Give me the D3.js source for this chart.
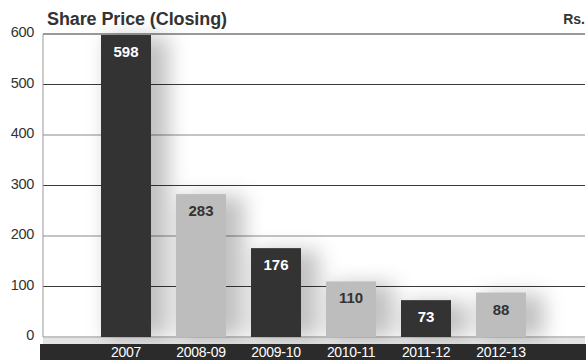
<!DOCTYPE html>
<html>
<head>
<meta charset="utf-8">
<script src="https://cdn.jsdelivr.net/npm/d3@7"></script>
<style>
  html, body { margin: 0; padding: 0; background: #fff; }
  svg { display: block; font-family: "Liberation Sans", Arial, sans-serif; }
</style>
</head>
<body>
<svg id="chart" width="586" height="360"></svg>
<script>
// Share price at close, by year (Rs.)
const years = ["2007", "2008-09", "2009-10", "2010-11", "2011-12", "2012-13"];
const prices = [598, 283, 176, 110, 73, 88];
const yTicks = [0, 100, 200, 300, 400, 500, 600];
const barShades = ["dark", "light", "dark", "light", "dark", "light"];

const W = 586, H = 360;
const plot = { left: 43, right: 585, top: 34, bottom: 337 };

const svg = d3.select("#chart");

const x = d3.scaleBand()
  .domain(years)
  .range([88.5, 538.5])
  .paddingInner(1 / 3)
  .paddingOuter(1 / 6);

const y = d3.scaleLinear()
  .domain([0, 600])
  .range([plot.bottom, plot.top]);

const fill = { dark: "#333333", light: "#bdbdbd" };
const labelFill = { dark: "#ffffff", light: "#333333" };

// soft shadow for the bars
const defs = svg.append("defs");
const f = defs.append("filter").attr("id", "soft")
  .attr("x", "-100%").attr("y", "-20%").attr("width", "300%").attr("height", "140%");
f.append("feGaussianBlur").attr("stdDeviation", 10);

// gridlines, alternating shade
svg.append("g")
  .selectAll("line")
  .data(yTicks.filter(d => d > 0 && d < 600))
  .join("line")
  .attr("x1", plot.left).attr("x2", plot.right)
  .attr("y1", d => y(d)).attr("y2", d => y(d))
  .attr("stroke", d => (d / 100) % 2 === 1 ? "#3a3a3a" : "#8a8a8a")
  .attr("stroke-width", 1.2);

// top rule and baseline
svg.append("line")
  .attr("x1", plot.left).attr("x2", plot.right)
  .attr("y1", y(600)).attr("y2", y(600))
  .attr("stroke", "#999").attr("stroke-width", 2);
svg.append("line")
  .attr("x1", plot.left).attr("x2", plot.right)
  .attr("y1", y(0)).attr("y2", y(0))
  .attr("stroke", "#8a8a8a").attr("stroke-width", 1.2);
// left axis line
svg.append("line")
  .attr("x1", plot.left).attr("x2", plot.left)
  .attr("y1", plot.top).attr("y2", plot.bottom)
  .attr("stroke", "#999").attr("stroke-width", 1);

// band under the baseline
svg.append("rect")
  .attr("x", plot.left).attr("y", plot.bottom + 1)
  .attr("width", plot.right - plot.left).attr("height", 6)
  .attr("fill", "#e4e4e4");

// shadows
const gShadow = svg.append("g").attr("filter", "url(#soft)");
gShadow.selectAll("rect")
  .data(years)
  .join("rect")
  .attr("x", d => x(d) + 6)
  .attr("y", (d, i) => y(prices[i]) + 2)
  .attr("width", x.bandwidth() + 12)
  .attr("height", (d, i) => y(0) - y(prices[i]) - 2)
  .attr("fill", "rgba(0,0,0,0.24)");

// bars
svg.append("g")
  .selectAll("rect")
  .data(years)
  .join("rect")
  .attr("x", d => x(d))
  .attr("y", (d, i) => y(prices[i]))
  .attr("width", x.bandwidth())
  .attr("height", (d, i) => y(0) - y(prices[i]))
  .attr("fill", (d, i) => fill[barShades[i]]);

// value labels
svg.append("g")
  .selectAll("text")
  .data(years)
  .join("text")
  .attr("x", d => x(d) + x.bandwidth() / 2)
  .attr("y", (d, i) => y(prices[i]) + 22)
  .attr("text-anchor", "middle")
  .attr("font-size", 15)
  .attr("font-weight", "bold")
  .attr("fill", (d, i) => labelFill[barShades[i]])
  .text((d, i) => prices[i]);

// y axis tick labels
const yAxis = d3.axisLeft(y).tickValues(yTicks).tickSize(0).tickPadding(0);
const gy = svg.append("g")
  .attr("transform", `translate(${plot.left - 9},-2)`)
  .call(yAxis);
gy.select(".domain").remove();
gy.selectAll("text")
  .attr("font-family", "Liberation Sans, Arial, sans-serif")
  .attr("font-size", 14.5)
  .attr("letter-spacing", -0.3)
  .attr("fill", "#333")
  .attr("dy", "0.34em");

// category band
svg.append("rect")
  .attr("x", 40).attr("y", 344)
  .attr("width", W - 40).attr("height", H - 344)
  .attr("fill", "#2b2b2b");

const xAxis = d3.axisBottom(x).tickSize(0).tickPadding(0);
const gx = svg.append("g")
  .attr("transform", "translate(0,357)")
  .call(xAxis);
gx.select(".domain").remove();
gx.selectAll("text")
  .attr("font-family", "Liberation Sans, Arial, sans-serif")
  .attr("font-size", 14)
  .attr("letter-spacing", -0.3)
  .attr("fill", "#fff")
  .attr("dy", 0);

// title and unit
svg.append("text")
  .attr("x", 47).attr("y", 25)
  .attr("font-size", 18)
  .attr("font-weight", "bold")
  .attr("letter-spacing", -0.1)
  .attr("fill", "#333")
  .text("Share Price (Closing)");
svg.append("text")
  .attr("x", 585).attr("y", 24)
  .attr("text-anchor", "end")
  .attr("font-size", 14)
  .attr("font-weight", "bold")
  .attr("fill", "#333")
  .text("Rs.");
</script>
</body>
</html>
